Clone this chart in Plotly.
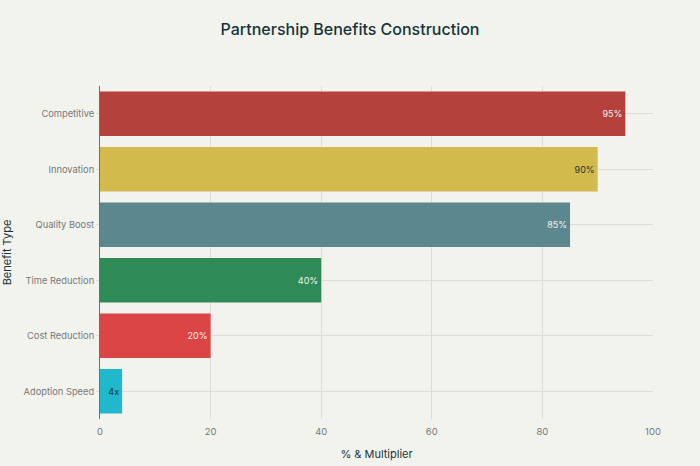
import plotly.graph_objects as go

categories = ["Adoption Speed", "Cost Reduction", "Time Reduction", "Quality Boost", "Innovation", "Competitive"]
values = [4, 20, 40, 85, 90, 95]
labels = ["4x", "20%", "40%", "85%", "90%", "95%"]
colors = ["#1FB8CD", "#DB4545", "#2E8B57", "#5D878F", "#D2BA4C", "#B4413C"]
label_colors = ["#13343B", "#F3F3EE", "#F3F3EE", "#F3F3EE", "#13343B", "#F3F3EE"]
FONT = "Inter, 'Noto Sans', sans-serif"

fig = go.Figure(go.Bar(
    y=categories, x=values, orientation="h", text=labels,
    textposition="inside", insidetextanchor="end", textangle=0,
    textfont=dict(size=9, color=label_colors, family=FONT),
    insidetextfont=dict(size=9, color=label_colors, family=FONT),
    marker=dict(color=colors, line=dict(width=0)),
    cliponaxis=False, showlegend=False,
))
fig.update_layout(
    width=700, height=466, autosize=False,
    margin=dict(l=99.5, r=47, t=86, b=46.5),
    paper_bgcolor="#F3F3EE", plot_bgcolor="#F3F3EE",
    font=dict(family=FONT, size=9.3, color="#73787A"),
    title=dict(text="Partnership Benefits Construction", x=0.5, xanchor="center", y=0.936, yanchor="middle",
               font=dict(size=16, color="#13343B", family=FONT, weight=500)),
    bargap=0.2,
)
fig.update_xaxes(
    title=dict(text="% & Multiplier", font=dict(size=11, color="#13343B"), standoff=13),
    range=[0, 100], tickvals=[0, 20, 40, 60, 80, 100], showgrid=True, gridcolor="#DCDCD8", gridwidth=1,
    zeroline=False, showline=False, ticks="outside", ticklen=4, tickcolor="#F3F3EE",
    tickfont=dict(size=9.5, color="#73787A"), automargin=False,
)
fig.update_yaxes(
    title=dict(text="Benefit Type", font=dict(size=11, color="#13343B"), standoff=10),
    categoryorder="array", categoryarray=categories, showgrid=True, gridcolor="#DCDCD8", gridwidth=1,
    showline=True, linecolor="#6B7072", linewidth=1, ticks="outside", ticklen=3, tickcolor="#DCDCD8",
    tickfont=dict(size=9.3, color="#73787A"), automargin=False,
)
fig.write_html(
    "out.html",
    config=dict(displayModeBar=False),
    post_script="document.documentElement.style.background='#F3F3EE';document.body.style.margin='0';document.body.style.overflow='hidden';",
)
